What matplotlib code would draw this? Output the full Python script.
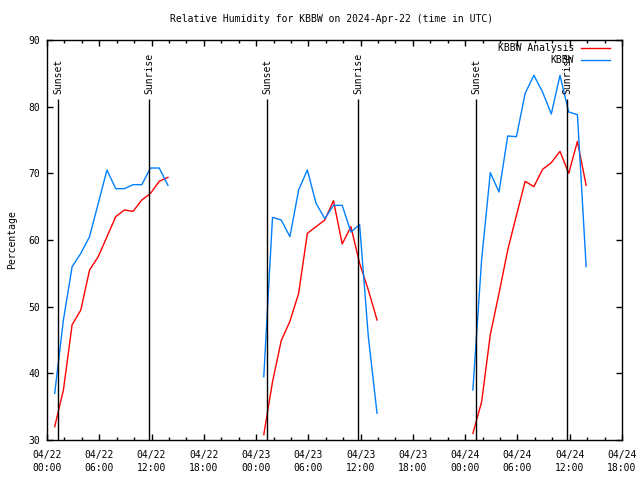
import matplotlib
matplotlib.use("Agg")
import matplotlib.pyplot as plt
import matplotlib.dates as mdates
import pandas as pd

# hourly obs for each day (start time, analysis RH, observed RH)
day_starts = ["2024-04-22 00:53", "2024-04-23 00:53", "2024-04-24 00:53"]

analysis_day1 = [32.0, 37.5, 47.3, 49.5, 55.5, 57.5, 60.5, 63.5, 64.5, 64.3, 66.0, 67.0, 68.8, 69.4]
obs_day1 = [37.0, 48.0, 56.0, 58.0, 60.5, 65.5, 70.5, 67.7, 67.7, 68.3, 68.3, 70.8, 70.8, 68.2]

analysis_day2 = [30.8, 38.7, 44.9, 47.8, 52.0, 61.0, 62.0, 63.0, 65.9, 59.4, 62.0, 56.5, 52.5, 48.0]
obs_day2 = [39.5, 63.4, 63.0, 60.5, 67.5, 70.5, 65.5, 63.2, 65.2, 65.2, 61.2, 62.3, 45.5, 34.0]

analysis_day3 = [31.0, 35.7, 45.8, 52.0, 58.5, 63.7, 68.8, 68.0, 70.6, 71.6, 73.3, 70.0, 74.8, 68.2]
obs_day3 = [37.5, 57.0, 70.1, 67.2, 75.6, 75.5, 82.0, 84.7, 82.2, 78.9, 84.7, 79.2, 78.8, 56.0]

sunsets = ["2024-04-22 01:18", "2024-04-23 01:17", "2024-04-24 01:17"]
sunrises = ["2024-04-22 11:44", "2024-04-23 11:44", "2024-04-24 11:43"]

analysis = [analysis_day1, analysis_day2, analysis_day3]
obs = [obs_day1, obs_day2, obs_day3]

mono = "DejaVu Sans Mono"
plt.rcParams["font.family"] = mono
plt.rcParams["font.size"] = 7

fig = plt.figure(figsize=(6.4, 4.8), dpi=100)
ax = fig.add_axes([47 / 640, 40 / 480, 575 / 640, 400 / 480])

for i, start in enumerate(day_starts):
    times = pd.date_range(start, periods=len(analysis[i]), freq="h")
    ax.plot(times, analysis[i], color="#ff0000", lw=1,
            label="KBBW Analysis" if i == 0 else None)
    ax.plot(times, obs[i], color="#0080ff", lw=1,
            label="KBBW" if i == 0 else None)

# sunset / sunrise markers
for s in sunsets:
    t = pd.Timestamp(s)
    ax.vlines(t, 30, 81.2, color="black", lw=1)
    ax.text(t, 81.9, "Sunset", rotation=90, ha="center", va="bottom")
for s in sunrises:
    t = pd.Timestamp(s)
    ax.vlines(t, 30, 81.2, color="black", lw=1)
    ax.text(t, 81.9, "Sunrise", rotation=90, ha="center", va="bottom")

ax.set_xlim(pd.Timestamp("2024-04-22 00:00"), pd.Timestamp("2024-04-24 18:00"))
ax.set_ylim(30, 90)
ax.set_yticks(range(30, 91, 10))
ax.xaxis.set_major_locator(mdates.HourLocator(byhour=range(0, 24, 6)))
ax.xaxis.set_minor_locator(mdates.HourLocator(byhour=range(0, 24, 2)))
ax.xaxis.set_major_formatter(mdates.DateFormatter("%m/%d\n%H:%M"))

ax.tick_params(which="major", direction="in", length=4, width=1, top=True, right=True, pad=5)
ax.tick_params(axis="x", which="major", pad=7)
ax.tick_params(which="minor", direction="in", length=2.5, width=1, top=True, right=True)
for lbl in ax.get_xticklabels():
    lbl.set_horizontalalignment("center")
    lbl.set_linespacing(1.4)
for sp in ax.spines.values():
    sp.set_linewidth(1)

leg = ax.legend(loc="upper right", bbox_to_anchor=(1 - 12 / 575, 1 - 3 / 400),
                frameon=False, markerfirst=False, borderaxespad=0, borderpad=0,
                handlelength=3.0, handletextpad=0.7, labelspacing=0.25)

fig.text(0.5 + 12 / 640, 1 - 19 / 480, "Relative Humidity for KBBW on 2024-Apr-22 (time in UTC)",
         ha="center", va="center")
fig.text(12 / 640, 240 / 480, "Percentage", rotation=90, ha="center", va="center")

fig.savefig("out.png", dpi=100)
